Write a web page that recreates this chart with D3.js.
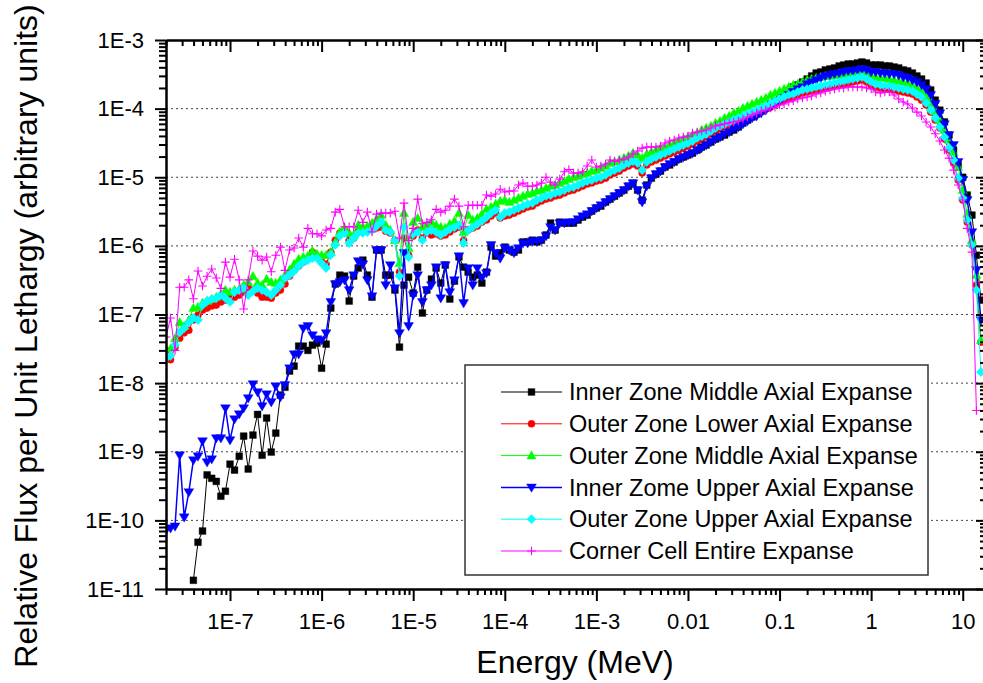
<!DOCTYPE html>
<html><head><meta charset="utf-8">
<script src="https://cdn.jsdelivr.net/npm/d3@7"></script>
<style>body{margin:0;background:#fff}svg{display:block}text{font-family:"Liberation Sans",Arial,Helvetica,sans-serif;fill:#000}</style>
</head><body>
<svg id="chart" width="983" height="683"></svg>
<script>
// ---------------- DATA ----------------
const energies = [
2.00e-8,2.24e-8,2.51e-8,2.82e-8,3.16e-8,3.55e-8,3.98e-8,4.47e-8,5.01e-8,5.62e-8,6.31e-8,7.08e-8,7.94e-8,8.91e-8,
1.00e-7,1.12e-7,1.26e-7,1.41e-7,1.58e-7,1.78e-7,2.00e-7,2.24e-7,2.51e-7,2.82e-7,3.16e-7,3.55e-7,3.98e-7,4.47e-7,5.01e-7,5.62e-7,6.31e-7,7.08e-7,7.94e-7,8.91e-7,
1.00e-6,1.12e-6,1.26e-6,1.41e-6,1.58e-6,1.78e-6,2.00e-6,2.24e-6,2.51e-6,2.82e-6,3.16e-6,3.55e-6,3.98e-6,4.47e-6,5.01e-6,5.62e-6,6.31e-6,7.08e-6,7.94e-6,8.91e-6,
1.00e-5,1.12e-5,1.26e-5,1.41e-5,1.58e-5,1.78e-5,2.00e-5,2.24e-5,2.51e-5,2.82e-5,3.16e-5,3.55e-5,3.98e-5,4.47e-5,5.01e-5,5.62e-5,6.31e-5,7.08e-5,7.94e-5,8.91e-5,
1.00e-4,1.12e-4,1.26e-4,1.41e-4,1.58e-4,1.78e-4,2.00e-4,2.24e-4,2.51e-4,2.82e-4,3.16e-4,3.55e-4,3.98e-4,4.47e-4,5.01e-4,5.62e-4,6.31e-4,7.08e-4,7.94e-4,8.91e-4,
1.00e-3,1.12e-3,1.26e-3,1.41e-3,1.58e-3,1.78e-3,2.00e-3,2.24e-3,2.51e-3,2.82e-3,3.16e-3,3.55e-3,3.98e-3,4.47e-3,5.01e-3,5.62e-3,6.31e-3,7.08e-3,7.94e-3,8.91e-3,
1.00e-2,1.12e-2,1.26e-2,1.41e-2,1.58e-2,1.78e-2,2.00e-2,2.24e-2,2.51e-2,2.82e-2,3.16e-2,3.55e-2,3.98e-2,4.47e-2,5.01e-2,5.62e-2,6.31e-2,7.08e-2,7.94e-2,8.91e-2,
1.00e-1,1.12e-1,1.26e-1,1.41e-1,1.58e-1,1.78e-1,2.00e-1,2.24e-1,2.51e-1,2.82e-1,3.16e-1,3.55e-1,3.98e-1,4.47e-1,5.01e-1,5.62e-1,6.31e-1,7.08e-1,7.94e-1,8.91e-1,
1.00,1.12,1.26,1.41,1.58,1.78,2.00,2.24,2.51,2.82,3.16,3.55,3.98,4.47,5.01,5.62,6.31,7.08,7.94,8.91,
10.0,11.2,12.6,14.1,15.8];

const innerZoneMiddle = [
null,null,null,null,null,null,1.34e-11,4.8e-11,7.0e-11,4.6e-10,
4.1e-10,3.7e-10,2.25e-10,2.66e-10,6.6e-10,5.4e-10,8.6e-10,1.69e-9,5.6e-10,1.75e-9,
3.5e-9,8.9e-10,3.1e-9,9.9e-10,1.87e-9,6.7e-9,8.7e-9,1.5e-8,1.77e-8,3.46e-8,
3.46e-8,3.0e-8,3.58e-8,3.83e-8,1.65e-8,3.7e-8,1.24e-7,2.78e-7,3.75e-7,3.63e-7,
1.57e-7,3.63e-7,4.75e-7,6.2e-7,3.75e-7,1.79e-7,8.7e-7,8.7e-7,3.75e-7,3.75e-7,
2.27e-7,3.35e-8,2.68e-7,3.5e-7,2.05e-7,4.9e-7,1.05e-7,2.27e-7,3.28e-7,4.75e-7,
2.87e-7,5.25e-7,1.68e-7,3.07e-7,6.9e-7,4.9e-7,4.15e-7,3.5e-7,3.75e-7,2.87e-7,
4.15e-7,9.6e-7,7.1e-7,7.9e-7,9.6e-7,8.7e-7,8.1e-7,8.7e-7,1.14e-6,1.14e-6,
1.21e-6,1.14e-6,1.21e-6,1.44e-6,2.15e-6,1.7e-6,2.22e-6,2.15e-6,2.15e-6,2.15e-6,
2.38e-6,2.63e-6,2.81e-6,3.22e-6,3.56e-6,3.8e-6,4.35e-6,4.8e-6,5.3e-6,5.9e-6,
6.5e-6,7.4e-6,8.2e-6,6.5e-6,4.65e-6,7.7e-6,9.7e-6,1.11e-5,1.23e-5,1.41e-5,
1.51e-5,1.67e-5,1.84e-5,1.97e-5,2.11e-5,2.25e-5,2.49e-5,2.76e-5,2.95e-5,3.26e-5,
3.6e-5,3.86e-5,4.12e-5,4.56e-5,4.88e-5,5.4e-5,6.17e-5,6.8e-5,7.55e-5,8.35e-5,
9.2e-5,1.02e-4,1.17e-4,1.29e-4,1.43e-4,1.63e-4,1.8e-4,2.06e-4,2.21e-4,2.44e-4,
2.7e-4,2.99e-4,3.3e-4,3.42e-4,3.66e-4,3.78e-4,3.91e-4,4.18e-4,4.32e-4,4.47e-4,
4.47e-4,4.62e-4,4.78e-4,4.62e-4,4.32e-4,4.32e-4,4.32e-4,4.18e-4,4.18e-4,4.04e-4,
3.91e-4,3.66e-4,3.54e-4,3.3e-4,2.99e-4,2.7e-4,2.36e-4,1.87e-4,1.33e-4,9.5e-5,
6.4e-5,4.12e-5,2.49e-5,1.51e-5,1.0e-5,5.5e-6,2.81e-6,7.3e-7,1.62e-7];

const outerZoneLower = [
3.0e-8,2.2e-8,3.35e-8,4.5e-8,5.4e-8,5.9e-8,8.3e-8,9.8e-8,1.16e-7,1.24e-7,
1.33e-7,1.37e-7,1.52e-7,1.62e-7,1.73e-7,1.79e-7,1.92e-7,2.12e-7,2.43e-7,2.27e-7,
2.05e-7,1.79e-7,1.79e-7,1.73e-7,2.05e-7,2.27e-7,2.78e-7,3.63e-7,4.44e-7,5.1e-7,
5.8e-7,6.42e-7,8.1e-7,6.87e-7,5.8e-7,5.43e-7,8.1e-7,1.21e-6,1.54e-6,1.7e-6,
1.21e-6,1.3e-6,1.64e-6,1.64e-6,1.7e-6,1.76e-6,1.82e-6,1.88e-6,1.64e-6,1.54e-6,
1.21e-6,4.15e-7,1.3e-6,7.35e-7,1.39e-6,1.7e-6,1.3e-6,1.54e-6,1.44e-6,1.49e-6,
1.39e-6,1.44e-6,1.59e-6,1.76e-6,1.88e-6,1.21e-6,1.7e-6,1.82e-6,1.94e-6,2.22e-6,
2.38e-6,2.72e-6,3.0e-6,2.54e-6,2.72e-6,2.81e-6,3.0e-6,3.22e-6,3.44e-6,3.68e-6,
3.8e-6,4.21e-6,4.5e-6,4.8e-6,4.98e-6,5.33e-6,5.5e-6,5.9e-6,6.3e-6,6.5e-6,
6.96e-6,7.44e-6,7.96e-6,8.24e-6,8.8e-6,9.1e-6,9.7e-6,1.08e-5,1.15e-5,1.23e-5,
1.36e-5,1.46e-5,1.56e-5,1.46e-5,1.15e-5,1.51e-5,1.67e-5,1.78e-5,1.9e-5,2.04e-5,
2.18e-5,2.33e-5,2.49e-5,2.66e-5,2.85e-5,3.05e-5,3.37e-5,3.6e-5,3.86e-5,4.26e-5,
4.72e-5,5.04e-5,5.4e-5,5.77e-5,6.17e-5,6.6e-5,7.05e-5,7.55e-5,8.1e-5,8.6e-5,
9.2e-5,9.9e-5,1.05e-4,1.17e-4,1.25e-4,1.33e-4,1.43e-4,1.48e-4,1.58e-4,1.69e-4,
1.75e-4,1.8e-4,1.87e-4,1.93e-4,2.0e-4,2.06e-4,2.13e-4,2.21e-4,2.28e-4,2.36e-4,
2.44e-4,2.52e-4,2.61e-4,2.44e-4,2.21e-4,2.06e-4,2.0e-4,1.93e-4,1.93e-4,1.87e-4,
1.8e-4,1.75e-4,1.69e-4,1.63e-4,1.48e-4,1.33e-4,1.13e-4,8.9e-5,6.8e-5,5.22e-5,
3.6e-5,2.49e-5,1.61e-5,9.1e-6,4.65e-6,2.22e-6,1.03e-6,2.68e-7,3.96e-8];

const outerZoneMiddle = [
2.6e-8,3.2e-8,4.5e-8,7.7e-8,6.8e-8,8.3e-8,1.24e-7,1.28e-7,1.47e-7,1.57e-7,
1.68e-7,1.79e-7,1.98e-7,2.27e-7,2.12e-7,2.27e-7,2.34e-7,2.68e-7,2.97e-7,3.63e-7,
2.87e-7,2.68e-7,3.28e-7,2.97e-7,2.87e-7,3.17e-7,3.75e-7,4.44e-7,5.43e-7,6.42e-7,
6.87e-7,7.1e-7,8.4e-7,7.6e-7,7.35e-7,7.35e-7,8.1e-7,1.14e-6,1.59e-6,1.82e-6,
1.54e-6,1.44e-6,2.01e-6,1.88e-6,1.94e-6,2.15e-6,2.46e-6,2.81e-6,2.01e-6,1.7e-6,
1.21e-6,5.6e-7,3.0e-6,9.3e-7,2.22e-6,2.54e-6,1.88e-6,2.01e-6,2.22e-6,2.01e-6,
1.88e-6,1.82e-6,2.08e-6,2.3e-6,3.0e-6,1.59e-6,2.81e-6,2.38e-6,2.54e-6,2.9e-6,
3.44e-6,3.68e-6,4.07e-6,4.5e-6,4.65e-6,4.35e-6,4.65e-6,4.98e-6,5.33e-6,5.7e-6,
5.9e-6,6.3e-6,6.5e-6,6.96e-6,7.44e-6,7.7e-6,8.24e-6,8.8e-6,9.4e-6,1.0e-5,
1.04e-5,1.11e-5,1.15e-5,1.23e-5,1.27e-5,1.36e-5,1.46e-5,1.61e-5,1.67e-5,1.78e-5,
1.9e-5,2.04e-5,2.25e-5,2.11e-5,1.9e-5,2.18e-5,2.33e-5,2.49e-5,2.66e-5,2.76e-5,
2.95e-5,3.15e-5,3.37e-5,3.6e-5,3.86e-5,4.12e-5,4.41e-5,4.88e-5,5.22e-5,5.58e-5,
6.17e-5,6.6e-5,7.3e-5,7.8e-5,8.6e-5,9.2e-5,1.02e-4,1.09e-4,1.17e-4,1.25e-4,
1.33e-4,1.43e-4,1.58e-4,1.69e-4,1.8e-4,1.93e-4,2.06e-4,2.21e-4,2.28e-4,2.44e-4,
2.61e-4,2.7e-4,2.8e-4,2.89e-4,2.99e-4,2.99e-4,3.09e-4,3.09e-4,3.2e-4,3.2e-4,
3.3e-4,3.3e-4,3.42e-4,3.2e-4,2.99e-4,2.89e-4,2.8e-4,2.8e-4,2.7e-4,2.61e-4,
2.52e-4,2.44e-4,2.36e-4,2.21e-4,2.0e-4,1.75e-4,1.48e-4,1.21e-4,9.2e-5,6.8e-5,
4.88e-5,3.49e-5,2.33e-5,1.41e-5,6.5e-6,2.9e-6,1.21e-6,3.75e-7,4.24e-8];

const innerZomeUpper = [
7.2e-11,7.7e-11,8.2e-11,8.9e-10,1.11e-10,2.58e-10,7.55e-10,8.6e-10,1.43e-9,7.05e-10,
7.8e-10,1.58e-9,1.58e-9,4.32e-9,1.48e-9,2.99e-9,3.54e-9,4.32e-9,6.05e-9,9.7e-9,
7.4e-9,4.62e-9,6.9e-9,5.3e-9,9.0e-9,6.25e-9,9.4e-9,1.65e-8,2.64e-8,2.64e-8,
6.3e-8,6.8e-8,5.0e-8,4.38e-8,4.24e-8,5.36e-8,1.52e-7,2.78e-7,2.97e-7,3.17e-7,
2.27e-7,3.75e-7,6.0e-7,5.4e-7,3.17e-7,1.85e-7,8.7e-7,8.7e-7,2.68e-7,5.25e-7,
2.43e-7,5.36e-8,7.9e-7,6.8e-8,1.92e-7,3.75e-7,1.52e-7,2.27e-7,2.68e-7,4.9e-7,
1.73e-7,5.25e-7,2.12e-7,3.17e-7,7.1e-7,1.47e-7,4.75e-7,2.68e-7,4.75e-7,3.5e-7,
4.0e-7,1.03e-6,7.9e-7,6.6e-7,9.3e-7,8.7e-7,7.9e-7,9.3e-7,1.1e-6,1.1e-6,
1.17e-6,1.17e-6,1.21e-6,1.39e-6,1.88e-6,1.7e-6,2.15e-6,2.15e-6,2.22e-6,2.22e-6,
2.46e-6,2.72e-6,2.9e-6,3.22e-6,3.56e-6,3.93e-6,4.35e-6,4.8e-6,5.3e-6,5.9e-6,
6.5e-6,7.4e-6,8.2e-6,6.5e-6,4.35e-6,7.4e-6,9.7e-6,1.11e-5,1.23e-5,1.41e-5,
1.56e-5,1.67e-5,1.84e-5,1.97e-5,2.11e-5,2.25e-5,2.49e-5,2.66e-5,2.95e-5,3.26e-5,
3.6e-5,3.86e-5,4.26e-5,4.56e-5,5.04e-5,5.4e-5,5.96e-5,6.6e-5,7.3e-5,7.8e-5,
8.6e-5,9.5e-5,1.05e-4,1.17e-4,1.29e-4,1.43e-4,1.58e-4,1.75e-4,1.93e-4,2.06e-4,
2.28e-4,2.44e-4,2.61e-4,2.8e-4,2.99e-4,3.09e-4,3.2e-4,3.3e-4,3.42e-4,3.54e-4,
3.54e-4,3.66e-4,3.78e-4,3.66e-4,3.42e-4,3.42e-4,3.3e-4,3.3e-4,3.2e-4,3.2e-4,
3.09e-4,2.89e-4,2.8e-4,2.61e-4,2.44e-4,2.21e-4,1.93e-4,1.58e-4,1.17e-4,8.6e-5,
5.96e-5,4.12e-5,2.95e-5,1.67e-5,9.2e-6,4.65e-6,1.59e-6,4.45e-7,8.3e-8];

const outerZoneUpper = [
2.3e-8,2.5e-8,3.6e-8,5.5e-8,6.3e-8,7.7e-8,8.9e-8,8.3e-8,1.37e-7,1.57e-7,
1.68e-7,1.73e-7,1.92e-7,1.73e-7,1.52e-7,2.12e-7,2.27e-7,2.43e-7,1.92e-7,2.19e-7,
2.43e-7,2.27e-7,2.12e-7,1.92e-7,2.27e-7,2.68e-7,3.39e-7,3.75e-7,4.29e-7,5.1e-7,
5.8e-7,6.2e-7,6.6e-7,6.6e-7,5.6e-7,4.75e-7,7.35e-7,1.03e-6,1.39e-6,1.54e-6,
1.1e-6,1.3e-6,1.54e-6,1.54e-6,1.59e-6,1.7e-6,1.94e-6,2.22e-6,1.7e-6,1.59e-6,
1.21e-6,3.63e-7,1.88e-6,6.87e-7,1.49e-6,1.59e-6,1.21e-6,1.59e-6,1.7e-6,1.59e-6,
1.44e-6,1.59e-6,1.76e-6,1.88e-6,2.01e-6,1.1e-6,1.7e-6,1.88e-6,2.08e-6,2.3e-6,
2.63e-6,3.0e-6,3.33e-6,2.63e-6,3.0e-6,3.11e-6,3.33e-6,3.56e-6,3.8e-6,4.07e-6,
4.21e-6,4.65e-6,4.98e-6,5.33e-6,5.5e-6,5.9e-6,6.1e-6,6.5e-6,6.96e-6,7.2e-6,
7.7e-6,8.24e-6,8.8e-6,9.1e-6,9.7e-6,1.0e-5,1.08e-5,1.19e-5,1.27e-5,1.36e-5,
1.51e-5,1.61e-5,1.72e-5,1.61e-5,1.27e-5,1.67e-5,1.84e-5,1.97e-5,2.11e-5,2.25e-5,
2.41e-5,2.58e-5,2.76e-5,2.95e-5,3.15e-5,3.37e-5,3.73e-5,3.98e-5,4.26e-5,4.72e-5,
5.22e-5,5.58e-5,5.96e-5,6.37e-5,6.8e-5,7.3e-5,7.8e-5,8.35e-5,8.9e-5,9.5e-5,
1.02e-4,1.09e-4,1.17e-4,1.29e-4,1.38e-4,1.48e-4,1.58e-4,1.63e-4,1.75e-4,1.87e-4,
1.93e-4,2.0e-4,2.06e-4,2.13e-4,2.21e-4,2.28e-4,2.36e-4,2.44e-4,2.52e-4,2.61e-4,
2.7e-4,2.8e-4,2.89e-4,2.7e-4,2.44e-4,2.28e-4,2.21e-4,2.13e-4,2.13e-4,2.06e-4,
2.0e-4,1.93e-4,1.87e-4,1.8e-4,1.63e-4,1.48e-4,1.21e-4,9.5e-5,7.3e-5,5.4e-5,
3.86e-5,2.66e-5,1.78e-5,9.7e-6,4.98e-6,2.38e-6,1.03e-6,2.27e-7,1.45e-8];

const cornerCellEntire = [
4.7e-8,8.9e-8,3.0e-8,2.5e-7,2.5e-7,3.2e-7,1.7e-7,4.3e-7,2.6e-7,3.6e-7,
4.6e-7,3.4e-7,2.4e-7,5.8e-7,3.5e-7,6.4e-7,3.2e-7,1.2e-7,3.2e-7,8.4e-7,
7.1e-7,6.2e-7,6.9e-7,4.2e-7,7.3e-7,9.6e-7,4.4e-7,8.7e-7,9.3e-7,1.3e-6,
9.6e-7,1.8e-6,1.5e-6,1.5e-6,1.4e-6,1.7e-6,1.8e-6,3.1e-6,3.4e-6,1.9e-6,
1.9e-6,1.9e-6,3.3e-6,2.2e-6,3.1e-6,1.6e-6,2.9e-6,3.0e-6,3.0e-6,3.0e-6,
3.2e-6,1.3e-6,4.2e-6,1.2e-6,1.8e-6,4.8e-6,2.1e-6,2.2e-6,2.4e-6,3.4e-6,
3.1e-6,3.3e-6,3.8e-6,4.8e-6,3.8e-6,1.9e-6,3.9e-6,3.9e-6,3.9e-6,3.9e-6,
5.5e-6,5.3e-6,5.7e-6,6.7e-6,6.1e-6,6.3e-6,6.3e-6,7.7e-6,8.2e-6,7.4e-6,
7.4e-6,7.7e-6,8.2e-6,1.0e-5,8.5e-6,7.7e-6,9.4e-6,1.2e-5,1.3e-5,1.15e-5,
1.15e-5,1.2e-5,1.46e-5,1.78e-5,1.41e-5,1.46e-5,1.56e-5,1.78e-5,1.72e-5,1.78e-5,
1.84e-5,1.97e-5,2.18e-5,2.41e-5,2.66e-5,2.76e-5,2.76e-5,2.76e-5,2.85e-5,3.15e-5,
3.37e-5,3.49e-5,3.73e-5,3.86e-5,3.98e-5,4.41e-5,4.56e-5,4.72e-5,4.88e-5,5.22e-5,
5.6e-5,5.8e-5,6.0e-5,6.2e-5,6.4e-5,6.6e-5,7.05e-5,7.55e-5,8.1e-5,8.6e-5,
9.2e-5,9.5e-5,1.02e-4,1.05e-4,1.13e-4,1.17e-4,1.25e-4,1.29e-4,1.38e-4,1.43e-4,
1.48e-4,1.53e-4,1.63e-4,1.69e-4,1.8e-4,1.87e-4,1.93e-4,2.0e-4,2.0e-4,2.07e-4,
2.07e-4,2.07e-4,2.07e-4,2.0e-4,1.93e-4,1.75e-4,1.69e-4,1.75e-4,1.75e-4,1.58e-4,
1.38e-4,1.25e-4,1.17e-4,1.02e-4,8.9e-5,7.8e-5,6.4e-5,5.4e-5,4.3e-5,3.37e-5,
2.49e-5,1.9e-5,1.27e-5,7.7e-6,4.65e-6,1.8e-6,8.1e-7,4.0e-9,null];

const seriesNames = [
  "Inner Zone Middle Axial Expanse",
  "Outer Zone Lower Axial Expanse",
  "Outer Zone Middle Axial Expanse",
  "Inner Zome Upper Axial Expanse",
  "Outer Zone Upper Axial Expanse",
  "Corner Cell Entire Expanse"
];
const xTickValues = [1e-7,1e-6,1e-5,1e-4,1e-3,1e-2,1e-1,1,10];
const xTickLabels = ["1E-7","1E-6","1E-5","1E-4","1E-3","0.01","0.1","1","10"];
const yTickValues = [1e-11,1e-10,1e-9,1e-8,1e-7,1e-6,1e-5,1e-4,1e-3];
const yTickLabels = ["1E-11","1E-10","1E-9","1E-8","1E-7","1E-6","1E-5","1E-4","1E-3"];
const xTitle = "Energy (MeV)";
const yTitle = "Relative Flux per Unit Lethargy (arbitrary units)";

// ---------------- CHART ----------------
const seriesData = [innerZoneMiddle, outerZoneLower, outerZoneMiddle, innerZomeUpper, outerZoneUpper, cornerCellEntire];
seriesData.forEach((s,i)=>{ if (s.length !== energies.length) throw new Error("len mismatch series "+i+": "+s.length+" vs "+energies.length); });

const styles = [
  {color:"#000000", marker:"square", lw:1},
  {color:"#ff0000", marker:"circle", lw:1},
  {color:"#00ff00", marker:"triUp", lw:1},
  {color:"#0000ff", marker:"triDown", lw:1.5},
  {color:"#00ffff", marker:"diamond", lw:1},
  {color:"#ff00ff", marker:"plus", lw:1}
];
const markerPaths = {
  square: "M-3.4,-3.4h6.8v6.8h-6.8z",
  circle: d3.symbol(d3.symbolCircle, 40)(),
  triUp: "M0,-4.8L4.6,3.4L-4.6,3.4Z",
  triDown: "M-4.9,-3.4L4.9,-3.4L0,4.9Z",
  diamond: "M0,-4.6L4.6,0L0,4.6L-4.6,0Z",
  plus: "M-4.3,0H4.3M0,-4.3V4.3"
};

const P = {left:166, right:985, top:40, bottom:589};
const svg = d3.select("#chart");
const x = d3.scaleLog().domain([2e-8, 17.5]).range([P.left, P.right]);
const y = d3.scaleLog().domain([1e-11, 1e-3]).range([P.bottom, P.top]);

svg.append("rect").attr("width",983).attr("height",683).attr("fill","#fff");

svg.append("defs").append("clipPath").attr("id","clip")
  .append("rect").attr("x",P.left).attr("y",P.top).attr("width",P.right-P.left).attr("height",P.bottom-P.top);

// gridlines
svg.append("g").selectAll("line").data(yTickValues.slice(1,-1)).join("line")
  .attr("x1",P.left).attr("x2",P.right).attr("y1",d=>y(d)).attr("y2",d=>y(d))
  .attr("stroke","#444").attr("stroke-width",1).attr("stroke-dasharray","2,3");

// data
const dataG = svg.append("g").attr("clip-path","url(#clip)");
seriesData.forEach((vals,i)=>{
  const st = styles[i];
  const pts = energies.map((e,j)=>({e, v: vals[j]})).filter(p=>p.v!=null);
  const line = d3.line().x(p=>x(p.e)).y(p=>y(p.v));
  const g = dataG.append("g");
  g.append("path").attr("d", line(pts)).attr("fill","none").attr("stroke",st.color).attr("stroke-width",st.lw);
  g.selectAll("path.m").data(pts).join("path").attr("class","m")
    .attr("transform",p=>`translate(${x(p.e)},${y(p.v)})`)
    .attr("d", markerPaths[st.marker])
    .attr("fill", st.marker==="plus" ? "none" : st.color)
    .attr("stroke", st.color)
    .attr("stroke-width", st.marker==="plus" ? 1.1 : 0.4);
});

// minor tick values
const xMinor = [], yMinor = [];
for (let d=-8; d<=1; d++) for (let m=2; m<=9; m++) { const v=m*Math.pow(10,d); if (v>=2e-8 && v<=17.5) xMinor.push(v); }
for (let d=-11; d<=-4; d++) for (let m=2; m<=9; m++) yMinor.push(m*Math.pow(10,d));

function styleAxis(g){
  g.selectAll("path.domain").attr("stroke","#000").attr("stroke-width",2);
  g.selectAll(".tick line").attr("stroke","#000").attr("stroke-width",2);
  g.selectAll("text").style("font-size","22px").attr("fill","#000");
}
// bottom
svg.append("g").attr("transform",`translate(0,${P.bottom})`)
  .call(d3.axisBottom(x).tickValues(xMinor).tickSize(6).tickSizeOuter(0).tickFormat(""))
  .call(styleAxis);
svg.append("g").attr("transform",`translate(0,${P.bottom})`)
  .call(d3.axisBottom(x).tickValues(xTickValues).tickSize(12).tickSizeOuter(0).tickPadding(12)
    .tickFormat((d,i)=>xTickLabels[i]))
  .call(styleAxis);
// top
svg.append("g").attr("transform",`translate(0,${P.top})`)
  .call(d3.axisTop(x).tickValues(xMinor).tickSize(-6).tickSizeOuter(0).tickFormat(""))
  .call(styleAxis);
svg.append("g").attr("transform",`translate(0,${P.top})`)
  .call(d3.axisTop(x).tickValues(xTickValues).tickSize(-12).tickSizeOuter(0).tickFormat(""))
  .call(styleAxis);
// left
svg.append("g").attr("transform",`translate(${P.left},0)`)
  .call(d3.axisLeft(y).tickValues(yMinor).tickSize(7).tickSizeOuter(0).tickFormat(""))
  .call(styleAxis);
svg.append("g").attr("transform",`translate(${P.left},0)`)
  .call(d3.axisLeft(y).tickValues(yTickValues).tickSize(11).tickSizeOuter(0).tickPadding(11)
    .tickFormat((d,i)=>yTickLabels[i]))
  .call(styleAxis);
// right
svg.append("g").attr("transform",`translate(${P.right},0)`)
  .call(d3.axisRight(y).tickValues(yMinor).tickSize(-5).tickSizeOuter(0).tickFormat(""))
  .call(styleAxis);
svg.append("g").attr("transform",`translate(${P.right},0)`)
  .call(d3.axisRight(y).tickValues(yTickValues).tickSize(-9).tickSizeOuter(0).tickFormat(""))
  .call(styleAxis);

// titles
svg.append("text").attr("x",575).attr("y",673).attr("text-anchor","middle")
  .style("font-size","32px").text(xTitle);
svg.append("text").attr("transform","translate(37,336) rotate(-90)").attr("text-anchor","middle")
  .style("font-size","32px").text(yTitle);

// legend
const L = {x:465, y:365, w:463, h:210, row0:392, dy:31.8};
const lg = svg.append("g");
lg.append("rect").attr("x",L.x).attr("y",L.y).attr("width",L.w).attr("height",L.h)
  .attr("fill","#fff").attr("stroke","#333").attr("stroke-width",1.5);
seriesNames.forEach((name,i)=>{
  const st = styles[i], cy = L.row0 + i*L.dy;
  lg.append("line").attr("x1",501).attr("x2",562).attr("y1",cy).attr("y2",cy)
    .attr("stroke",st.color).attr("stroke-width",st.lw);
  lg.append("path").attr("transform",`translate(531.5,${cy})`).attr("d",markerPaths[st.marker])
    .attr("fill", st.marker==="plus" ? "none" : st.color).attr("stroke",st.color)
    .attr("stroke-width", st.marker==="plus" ? 1.1 : 0.4);
  lg.append("text").attr("x",569).attr("y",cy).attr("dy","0.35em")
    .style("font-size","23.5px").text(name);
});
</script>
</body></html>
